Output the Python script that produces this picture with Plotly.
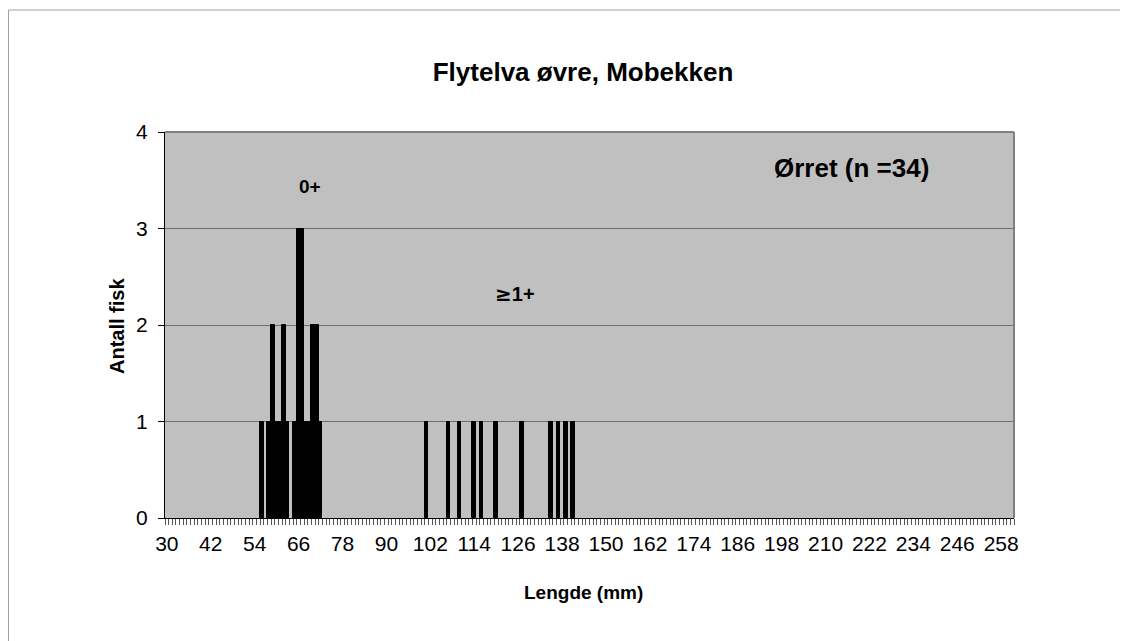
import plotly.graph_objects as go

# Data: fish length (mm) -> count
lengths = [56, 58, 59, 60, 61, 62, 63, 65, 66, 67, 68, 69, 70, 71, 72,
           101, 107, 110, 114, 116, 120, 127, 135, 137, 139, 141]
counts = [1, 1, 2, 1, 1, 2, 1, 1, 3, 3, 1, 1, 2, 2, 1,
          1, 1, 1, 1, 1, 1, 1, 1, 1, 1, 1]
tick_labels = list(range(30, 259, 12))
y_ticks = [0, 1, 2, 3, 4]

FONT = "Liberation Sans, Arial, sans-serif"

# page is offset by 8px (body margin), so layout in "paper pixels" = screen - 8
OFF = 8
L, R, T, B = 165 - OFF, 1014 - OFF, 132 - OFF, 518 - OFF
W, H = 1128, 641
pw, ph = R - L, B - T


def px(x):
    return (x - OFF - L) / pw


def py(y):
    return 1 - (y - OFF - T) / ph


fig = go.Figure()
fig.add_trace(go.Bar(
    x=lengths, y=counts, width=[1] * len(lengths),
    marker=dict(color="black", line=dict(color="black", width=1)),
    showlegend=False, hoverinfo="x+y"
))

fig.update_layout(
    width=W, height=H,
    margin=dict(l=L, r=W - R, t=T, b=H - B),
    paper_bgcolor="white", plot_bgcolor="#C0C0C0",
    bargap=0,
    font=dict(family=FONT, color="black", size=20),
    title=dict(text="<b>Flytelva øvre, Mobekken</b>", x=px(583), xanchor="center",
               xref="paper", y=1 - (72 - OFF) / H, yanchor="middle",
               font=dict(size=26, family=FONT)),
    xaxis=dict(
        range=[29.5, 261.5], tickmode="array", tickvals=tick_labels,
        ticktext=[str(v) for v in tick_labels], ticks="", showgrid=False,
        showline=True, linecolor="black", linewidth=1, zeroline=False,
        tickfont=dict(size=21), ticklabelstandoff=7,
        minor=dict(tickmode="linear", tick0=29.5, dtick=1, ticks="outside",
                   ticklen=6, tickcolor="#555555", tickwidth=1, showgrid=False),
    ),
    yaxis=dict(
        range=[0, 4], tickvals=y_ticks, ticks="outside", ticklen=6,
        tickcolor="black", showgrid=True, gridcolor="#6e6e6e", gridwidth=1,
        showline=True, linecolor="black", linewidth=1, zeroline=False,
        tickfont=dict(size=21), ticklabelstandoff=6,
    ),
    annotations=[
        dict(x=px(583), y=py(592), xref="paper", yref="paper", text="<b>Lengde (mm)</b>",
             xanchor="center", yanchor="middle", showarrow=False, font=dict(size=19)),
        dict(x=px(117), y=py(326), xref="paper", yref="paper", text="<b>Antall fisk</b>",
             textangle=-90, xanchor="center", yanchor="middle", showarrow=False,
             font=dict(size=20)),
        dict(x=px(310), y=py(186), xref="paper", yref="paper", text="<b>0+</b>",
             xanchor="center", yanchor="middle", showarrow=False, font=dict(size=19)),
        dict(x=px(515), y=py(294), xref="paper", yref="paper",
             text="<b><span style='font-family:DejaVu Sans'>≥</span>1+</b>",
             xanchor="center", yanchor="middle", showarrow=False, font=dict(size=20)),
        dict(x=px(851), y=py(168), xref="paper", yref="paper", text="<b>Ørret (n =34)</b>",
             xanchor="center", yanchor="middle", showarrow=False, font=dict(size=26)),
    ],
)

# plot area border (gray, top/right) and outer chart frame
fig.add_shape(type="line", xref="paper", yref="paper", x0=0, x1=1, y0=1, y1=1,
              line=dict(color="#808080", width=2))
fig.add_shape(type="line", xref="paper", yref="paper", x0=1, x1=1, y0=0, y1=1,
              line=dict(color="#808080", width=2))
fig.add_shape(type="line", xref="paper", yref="paper",
              x0=(0.5 - L) / pw, x1=(W - L) / pw,
              y0=1 + (T - 2) / ph, y1=1 + (T - 2) / ph,
              line=dict(color="#a0a0a0", width=1))
fig.add_shape(type="line", xref="paper", yref="paper",
              x0=(0.5 - L) / pw, x1=(0.5 - L) / pw,
              y0=1 + (T - 2) / ph, y1=-(H - B) / ph,
              line=dict(color="#a0a0a0", width=1))

fig.write_html("out.html")
